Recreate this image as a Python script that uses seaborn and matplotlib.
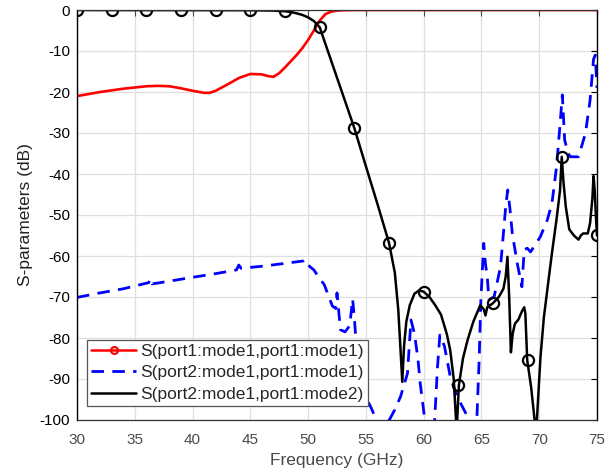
import numpy as np
import pandas as pd
import matplotlib
matplotlib.use("Agg")
import matplotlib.pyplot as plt
from matplotlib.lines import Line2D
import seaborn as sns

# ---------------- data ----------------
s11_freq = [30, 31, 32, 33, 34, 35, 36, 37, 38, 39, 40, 41, 41.5, 42, 43, 44, 45, 46,
            46.5, 47, 47.5, 48, 48.5, 49, 49.5, 50, 50.5, 51, 51.5, 52, 52.5, 53, 54, 75]
s11_db = [-21.0, -20.5, -20.0, -19.6, -19.2, -18.9, -18.6, -18.5, -18.6, -19.1, -19.7,
          -20.2, -20.2, -19.7, -18.2, -16.6, -15.6, -15.7, -16.1, -16.3, -15.4, -14.0,
          -12.5, -11.0, -9.3, -7.3, -5.0, -2.6, -1.0, -0.4, -0.15, -0.05, 0.0, 0.0]

s21m1_freq = [30, 32, 34, 36.2, 36.4, 36.5, 37.2, 40, 42, 43.8, 44.0, 44.2, 46, 48, 49.6,
              49.75, 49.9, 50.5, 51, 51.4, 51.8, 52.1, 52.4, 52.5, 52.6, 52.8, 53.2, 53.6,
              53.85, 54.0, 54.1, 54.3, 54.55, 55.0, 55.4, 55.85, 56.2, 56.6, 57.1, 57.5,
              58.0, 58.6, 58.8, 58.9, 59.2, 59.5, 59.7, 60.1, 60.5, 60.95, 61.2, 61.4,
              61.8, 62.3, 62.9, 63.8, 64.2, 64.6, 64.8, 64.95, 65.2, 65.35, 65.5, 65.65,
              66.1, 66.65, 66.9, 67.1, 67.27, 67.45, 67.67, 68.1, 68.5, 68.7, 68.96, 69.25,
              70.1, 70.7, 71.1, 71.5, 71.8, 72.0, 72.2, 72.5, 72.7, 73.4, 74.0, 74.4, 74.7,
              74.85, 75]
s21m1_db = [-70.1, -69.0, -68.0, -66.5, -65.5, -66.8, -66.5, -65.2, -64.3, -63.4, -62.2,
            -63.0, -62.5, -61.8, -61.2, -60.9, -62.0, -63.4, -65.5, -67.0, -70.0, -72.2,
            -72.8, -69.0, -72.0, -78.0, -78.5, -77.0, -70.5, -75.0, -79.0, -86.0, -91.9,
            -94.5, -96.7, -99.6, -102.0, -102.0, -99.6, -97.5, -94.3, -88.6, -80.0, -75.6,
            -78.9, -85.0, -91.0, -100.0, -104.0, -100.0, -87.0, -79.3, -82.0, -89.4, -94.3,
            -99.2, -102.0, -100.0, -85.4, -70.7, -56.9, -62.0, -65.0, -70.7, -69.9, -62.6,
            -54.5, -48.0, -43.9, -48.0, -54.5, -61.8, -67.5, -58.5, -58.1, -59.0, -55.3,
            -51.2, -47.2, -38.2, -28.0, -20.7, -31.7, -35.0, -35.8, -35.8, -30.1, -22.0,
            -12.0, -11.0, -19.0]

s21m2_freq = [30, 45, 47, 48, 48.5, 49, 49.5, 50, 50.5, 51, 52, 53, 54, 55, 56, 57, 57.5,
              57.8, 58.0, 58.15, 58.3, 58.5, 58.8, 59.2, 59.6, 60, 60.5, 61, 61.5, 62, 62.3,
              62.6, 62.8, 62.85, 62.9, 63.05, 63.4, 63.8, 64.3, 64.9, 65.2, 65.35, 65.5,
              66, 66.5, 66.9, 67.1, 67.25, 67.4, 67.55, 67.7, 67.9, 68.2, 68.5, 68.7, 68.8,
              68.96, 69.3, 69.6, 69.7, 69.8, 70.1, 70.4, 70.8, 71.1, 71.5, 71.8, 71.95,
              72.1, 72.3, 72.6, 73.0, 73.4, 73.6, 73.8, 74.2, 74.4, 74.6, 74.7, 74.8, 74.9, 75]
s21m2_db = [0.0, -0.05, -0.15, -0.3, -0.5, -0.8, -1.2, -1.8, -2.7, -4.2, -12.4, -20.6,
            -28.8, -38.1, -47.3, -56.8, -64.0, -73.0, -83.0, -90.7, -82.0, -76.0, -72.0,
            -69.2, -68.4, -68.7, -70.0, -72.0, -74.3, -79.0, -83.0, -90.0, -100.0, -105.0,
            -100.0, -91.5, -85.0, -80.5, -76.0, -72.0, -73.0, -74.5, -72.5, -71.5, -70.0,
            -68.0, -65.0, -60.2, -70.0, -83.5, -79.0, -76.5, -75.5, -73.5, -72.5, -74.0,
            -85.4, -92.0, -100.0, -105.0, -100.0, -85.0, -75.0, -66.0, -59.3, -51.0, -44.0,
            -35.8, -42.0, -48.0, -53.5, -55.0, -56.0, -55.0, -54.5, -54.5, -52.0, -46.0,
            -40.5, -44.0, -50.0, -55.0]

marker_freq = [30, 33, 36, 39, 42, 45, 48, 51, 54, 57, 60, 63, 66, 69, 72, 75]
marker_db = [0.0, 0.0, 0.0, 0.0, 0.0, -0.05, -0.3, -4.2, -28.8, -56.8, -68.7, -91.5,
             -71.5, -85.4, -35.8, -55.0]

x_ticks = [30, 35, 40, 45, 50, 55, 60, 65, 70, 75]
y_ticks = [0, -10, -20, -30, -40, -50, -60, -70, -80, -90, -100]
labels = ["S(port1:mode1,port1:mode1)",
          "S(port2:mode1,port1:mode1)",
          "S(port2:mode1,port1:mode2)"]

# ---------------- style ----------------
sns.set_theme(style="white")
plt.rcParams['font.family'] = ['Liberation Sans', 'DejaVu Sans']
plt.rcParams['axes.unicode_minus'] = False

fig = plt.figure(figsize=(6.14, 4.74), dpi=100)
ax = fig.add_axes([77/614, 1 - 420/474, 520/614, 410/474])

df11 = pd.DataFrame({"f": s11_freq, "v": s11_db})
df21a = pd.DataFrame({"f": s21m1_freq, "v": s21m1_db})
df21b = pd.DataFrame({"f": s21m2_freq, "v": s21m2_db})
dfm = pd.DataFrame({"f": marker_freq, "v": marker_db})

sns.lineplot(data=df11, x="f", y="v", ax=ax, color="#ff0000", lw=1.9,
             estimator=None, sort=False, zorder=3)
sns.lineplot(data=df21a, x="f", y="v", ax=ax, color="#0000ff", lw=2.0,
             estimator=None, sort=False, zorder=3)
ax.lines[-1].set_dashes((4.5, 3))
sns.lineplot(data=df21b, x="f", y="v", ax=ax, color="black", lw=1.8,
             estimator=None, sort=False, zorder=4)
sns.lineplot(data=dfm, x="f", y="v", ax=ax, color="black", lw=0, marker="o",
             markersize=8, markerfacecolor="none", markeredgecolor="black",
             markeredgewidth=1.6, estimator=None, sort=False, zorder=5)

ax.set_xlim(30, 75)
ax.set_ylim(-100, 0)
ax.set_xticks(x_ticks)
ax.set_yticks(y_ticks)
ax.grid(True, color="#dfdfdf", lw=0.9)
ax.set_axisbelow(True)

xcol = "#4a4a4a"
ax.tick_params(axis="both", direction="in", length=4, width=0.8, top=True, right=True,
               labelsize=11)
ax.tick_params(axis="x", colors=xcol, labelcolor=xcol, pad=9)
ax.tick_params(axis="y", colors="black", labelcolor="black", pad=5)
for side in ["left", "right"]:
    ax.spines[side].set_color("black")
    ax.spines[side].set_linewidth(1.0)
for side in ["top", "bottom"]:
    ax.spines[side].set_color("#333333")
    ax.spines[side].set_linewidth(0.9)
for s in ax.spines.values():
    s.set_visible(True)
    s.set_zorder(6)

ax.set_xlabel("Frequency (GHz)", fontsize=12.5, color=xcol, labelpad=4.5)
ax.set_ylabel("S-parameters (dB)", fontsize=12.5, color="#222222", labelpad=4.5)

handles = [
    Line2D([], [], color="#ff0000", lw=1.8, marker="o", markersize=5,
           markerfacecolor="none", markeredgecolor="#ff0000", markeredgewidth=1.5),
    Line2D([], [], color="#0000ff", lw=2.0, dashes=(4.5, 3)),
    Line2D([], [], color="black", lw=1.8),
]
leg = ax.legend(handles, labels, loc="lower left", bbox_to_anchor=(0.019, 0.034),
                fontsize=12.5, frameon=True, fancybox=False, edgecolor="#555555",
                framealpha=1, handlelength=2.6, handletextpad=0.2, borderpad=0.25,
                labelspacing=0.35, borderaxespad=0)
leg.get_frame().set_linewidth(0.9)
leg.set_zorder(10)

fig.savefig("out.png", dpi=100)
